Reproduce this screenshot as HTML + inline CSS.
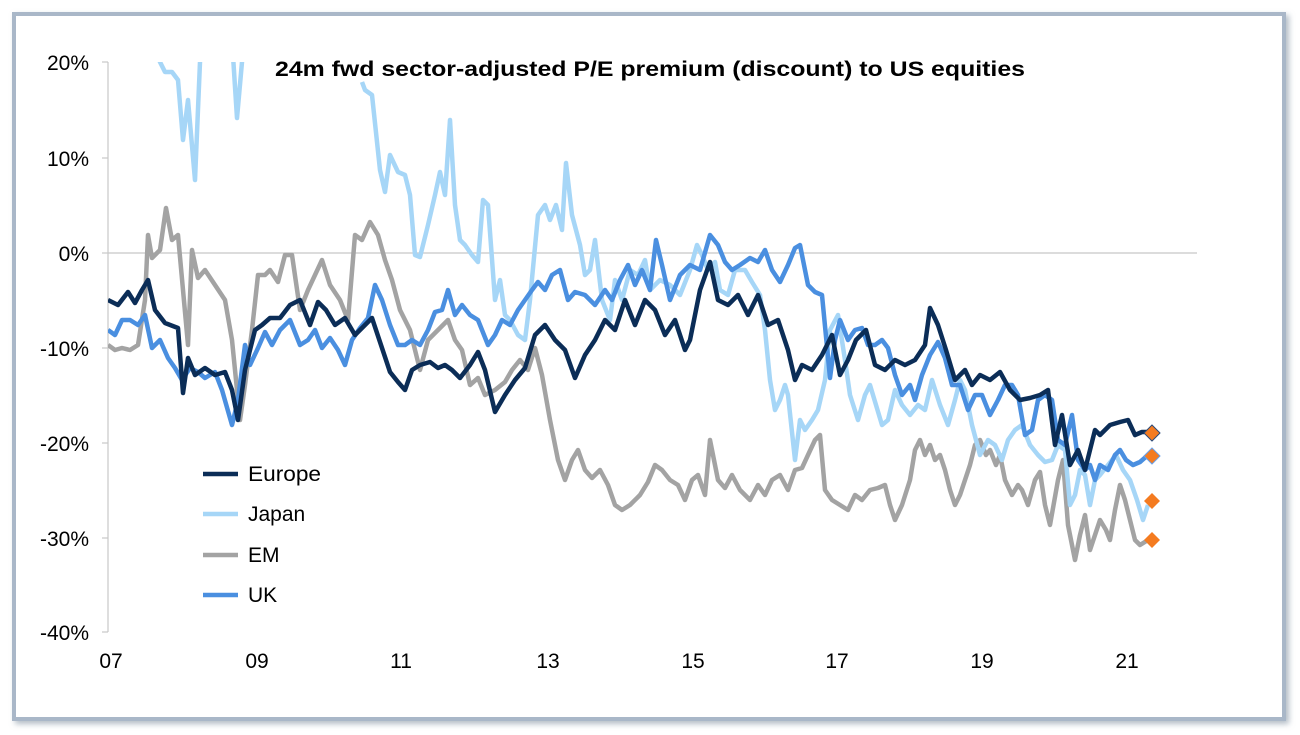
<!DOCTYPE html>
<html><head><style>
body{margin:0;background:#fff;}
svg{display:block;font-family:"Liberation Sans",Arial,sans-serif;}
</style></head><body>
<svg width="1300" height="735" viewBox="0 0 1300 735">
<defs>
<clipPath id="c"><rect x="108" y="62" width="1100" height="600"/></clipPath>
<filter id="sh" x="-5%" y="-5%" width="110%" height="110%"><feDropShadow dx="3" dy="3" stdDeviation="3" flood-color="#8090a0" flood-opacity="0.6"/></filter>
</defs>
<rect x="0" y="0" width="1300" height="735" fill="#fff"/>
<rect x="14" y="14" width="1270" height="705" fill="#fff" stroke="#a9b7c8" stroke-width="4" filter="url(#sh)"/>
<g stroke="#c8c8c8" stroke-width="1.2">
<line x1="108" y1="62" x2="108" y2="632"/>
<line x1="108" y1="253" x2="1197" y2="253"/>
<line x1="102" y1="62" x2="108" y2="62"/><line x1="102" y1="158" x2="108" y2="158"/><line x1="102" y1="253" x2="108" y2="253"/><line x1="102" y1="348" x2="108" y2="348"/><line x1="102" y1="443" x2="108" y2="443"/><line x1="102" y1="538" x2="108" y2="538"/><line x1="102" y1="632" x2="108" y2="632"/>
</g>
<g font-size="21" fill="#000" text-anchor="end">
<text x="89" y="70">20%</text><text x="89" y="166">10%</text><text x="89" y="261">0%</text><text x="89" y="356">-10%</text><text x="89" y="451">-20%</text><text x="89" y="546">-30%</text><text x="89" y="640">-40%</text>
</g>
<g font-size="21" fill="#000" text-anchor="middle">
<text x="111" y="668">07</text><text x="257" y="668">09</text><text x="401" y="668">11</text><text x="548" y="668">13</text><text x="693" y="668">15</text><text x="837" y="668">17</text><text x="982" y="668">19</text><text x="1127" y="668">21</text>
</g>
<g clip-path="url(#c)" fill="none" stroke-width="4.5" stroke-linejoin="round">
<polyline stroke="#a3a3a3" points="108,345 115,350 122,348 130,350 138,345 145,300 148,235 152,258 160,250 166,208 172,240 178,235 183,290 188,345 192,250 198,278 205,270 215,285 225,300 232,340 240,420 245,385 252,330 258,275 265,275 270,270 278,282 285,255 292,255 300,310 308,290 315,275 322,260 330,285 340,300 348,320 355,235 362,240 370,222 378,235 385,260 392,280 400,310 410,330 420,370 428,340 438,330 448,320 455,340 462,350 470,385 478,378 485,395 495,390 505,382 512,370 520,360 528,370 535,348 542,375 550,420 558,460 565,480 572,460 578,450 585,470 592,478 600,470 608,485 615,505 622,510 630,505 640,495 648,482 655,465 662,470 670,480 678,485 685,500 692,480 698,475 705,495 710,440 718,480 725,488 732,475 740,490 750,500 758,485 765,495 772,480 780,475 788,490 795,470 802,468 808,455 815,440 820,435 825,490 832,500 840,505 848,510 855,495 862,500 870,490 878,488 885,485 890,505 895,520 902,505 910,480 915,450 920,440 925,455 930,445 935,460 940,455 945,470 950,490 955,505 960,495 965,480 970,465 975,445 980,440 986,455 990,450 996,465 1000,455 1005,480 1012,495 1018,485 1022,490 1028,505 1035,480 1040,472 1045,505 1050,525 1058,480 1063,460 1068,525 1075,560 1080,535 1085,515 1090,550 1095,535 1100,520 1106,530 1110,540 1115,510 1120,485 1125,500 1130,520 1135,540 1140,545 1148,540"/>
<polyline stroke="#a6d6f7" points="150,40 160,62 165,72 172,72 178,80 183,140 188,100 195,180 200,62 203,40"/>
<polyline stroke="#a6d6f7" points="232,40 237,118 242,62 244,40"/>
<polyline stroke="#a6d6f7" points="362,82 365,90 372,95 380,170 385,192 390,155 398,172 405,175 410,195 415,255 420,257 428,225 435,195 440,172 445,195 450,120 455,205 460,240 465,245 472,255 478,262 483,200 488,205 495,300 500,280 505,315 510,320 518,335 525,340 530,300 538,215 545,205 550,220 556,205 562,230 566,163 572,215 580,245 585,275 590,270 595,240 602,300 610,320 615,280 622,300 630,270 638,275 645,260 650,290 660,280 670,285 680,295 690,270 697,245 702,255 708,270 715,262 720,290 728,295 735,270 745,270 752,282 760,295 765,330 770,380 775,410 780,400 785,385 788,395 795,460 800,420 805,430 812,420 818,410 825,380 830,330 838,315 845,360 850,395 858,420 865,395 870,385 876,405 882,425 888,420 895,390 902,405 910,415 918,405 925,410 932,380 940,405 948,425 955,400 960,380 965,390 972,425 980,455 988,440 995,445 1002,460 1008,440 1015,430 1022,425 1030,445 1038,455 1045,462 1052,460 1058,445 1065,450 1070,505 1075,495 1080,470 1085,475 1090,505 1095,480 1100,475 1108,465 1116,455 1123,470 1130,480 1137,500 1143,520 1148,505"/>
<polyline stroke="#4a8fe0" points="108,330 115,335 122,320 130,320 138,325 145,315 152,348 160,340 168,358 175,368 182,380 190,368 198,372 205,378 215,372 222,390 232,425 238,400 245,345 250,365 258,348 265,332 272,345 280,330 290,320 300,345 308,340 315,330 322,348 330,338 338,350 345,365 352,340 360,328 368,318 375,285 382,300 390,325 398,345 405,345 412,340 420,345 428,330 435,312 442,310 448,290 455,315 462,305 470,315 478,320 488,345 495,335 502,320 510,325 518,310 525,300 532,290 538,282 545,290 552,275 560,270 568,300 575,292 585,295 595,305 605,290 612,300 620,280 628,265 635,285 642,270 650,290 656,240 662,265 670,300 680,275 690,265 700,270 710,235 718,245 725,262 732,270 740,265 750,258 758,262 765,250 772,270 780,282 788,265 795,248 800,245 808,285 815,292 822,295 830,378 835,340 840,320 848,340 855,330 862,328 868,345 875,345 882,340 888,348 895,375 902,395 910,385 915,400 922,375 930,355 938,342 945,358 952,385 960,385 968,410 975,395 982,395 990,415 998,400 1005,385 1012,385 1018,395 1025,435 1032,430 1038,400 1045,395 1052,400 1058,440 1065,445 1072,415 1078,460 1085,470 1090,465 1095,480 1100,465 1108,470 1115,455 1120,450 1126,460 1133,465 1140,462 1148,455"/>
<polyline stroke="#0b2d57" points="108,300 118,305 128,292 135,303 142,290 148,280 155,310 165,323 178,328 183,393 188,358 195,375 205,368 215,375 225,372 232,390 238,420 245,370 255,330 262,325 270,318 280,318 290,305 300,300 310,325 318,302 326,310 335,325 345,318 355,335 365,325 372,318 382,348 390,372 398,382 405,390 412,370 420,365 430,362 438,368 445,365 452,370 460,378 470,365 478,352 485,370 495,412 505,395 515,380 525,368 535,335 545,325 555,340 565,350 575,378 585,355 595,340 605,320 615,330 625,300 635,325 645,300 655,310 665,335 675,320 685,350 690,340 700,290 710,262 718,300 728,305 738,295 748,315 758,295 768,325 778,320 788,350 795,380 802,365 812,370 822,355 832,335 840,375 848,360 856,340 866,330 875,365 885,370 895,360 905,365 915,360 925,345 930,308 938,325 946,350 955,380 965,370 972,385 980,375 990,380 1000,372 1010,390 1020,400 1030,398 1040,395 1048,390 1055,445 1062,415 1070,465 1078,450 1085,470 1095,430 1100,435 1110,425 1120,422 1128,420 1135,435 1142,432 1148,432"/>
</g>
<rect x="272" y="56" width="756" height="24" fill="#fff"/>
<text x="275" y="76" textLength="750" lengthAdjust="spacingAndGlyphs" font-size="21" font-weight="bold" fill="#000">24m fwd sector-adjusted P/E premium (discount) to US equities</text>
<g fill="#f47b20">
<polygon points="1152,425 1160,433 1152,441 1144,433" stroke="#2a4a7a" stroke-width="1"/>
<polygon points="1152,448 1160,456 1152,464 1144,456" stroke="#6aa0e8" stroke-width="1"/>
<polygon points="1152,493 1160,501 1152,509 1144,501"/>
<polygon points="1152,532 1160,540 1152,548 1144,540"/>
</g>
<g stroke-width="4.5">
<line x1="203" y1="474" x2="238" y2="474" stroke="#0b2d57"/>
<line x1="203" y1="514" x2="238" y2="514" stroke="#a6d6f7"/>
<line x1="203" y1="555" x2="238" y2="555" stroke="#a3a3a3"/>
<line x1="203" y1="595" x2="238" y2="595" stroke="#4a8fe0"/>
</g>
<g font-size="21" fill="#000">
<text x="248" y="481" textLength="73" lengthAdjust="spacingAndGlyphs">Europe</text><text x="248" y="521">Japan</text><text x="248" y="562">EM</text><text x="248" y="602">UK</text>
</g>
</svg>
</body></html>
